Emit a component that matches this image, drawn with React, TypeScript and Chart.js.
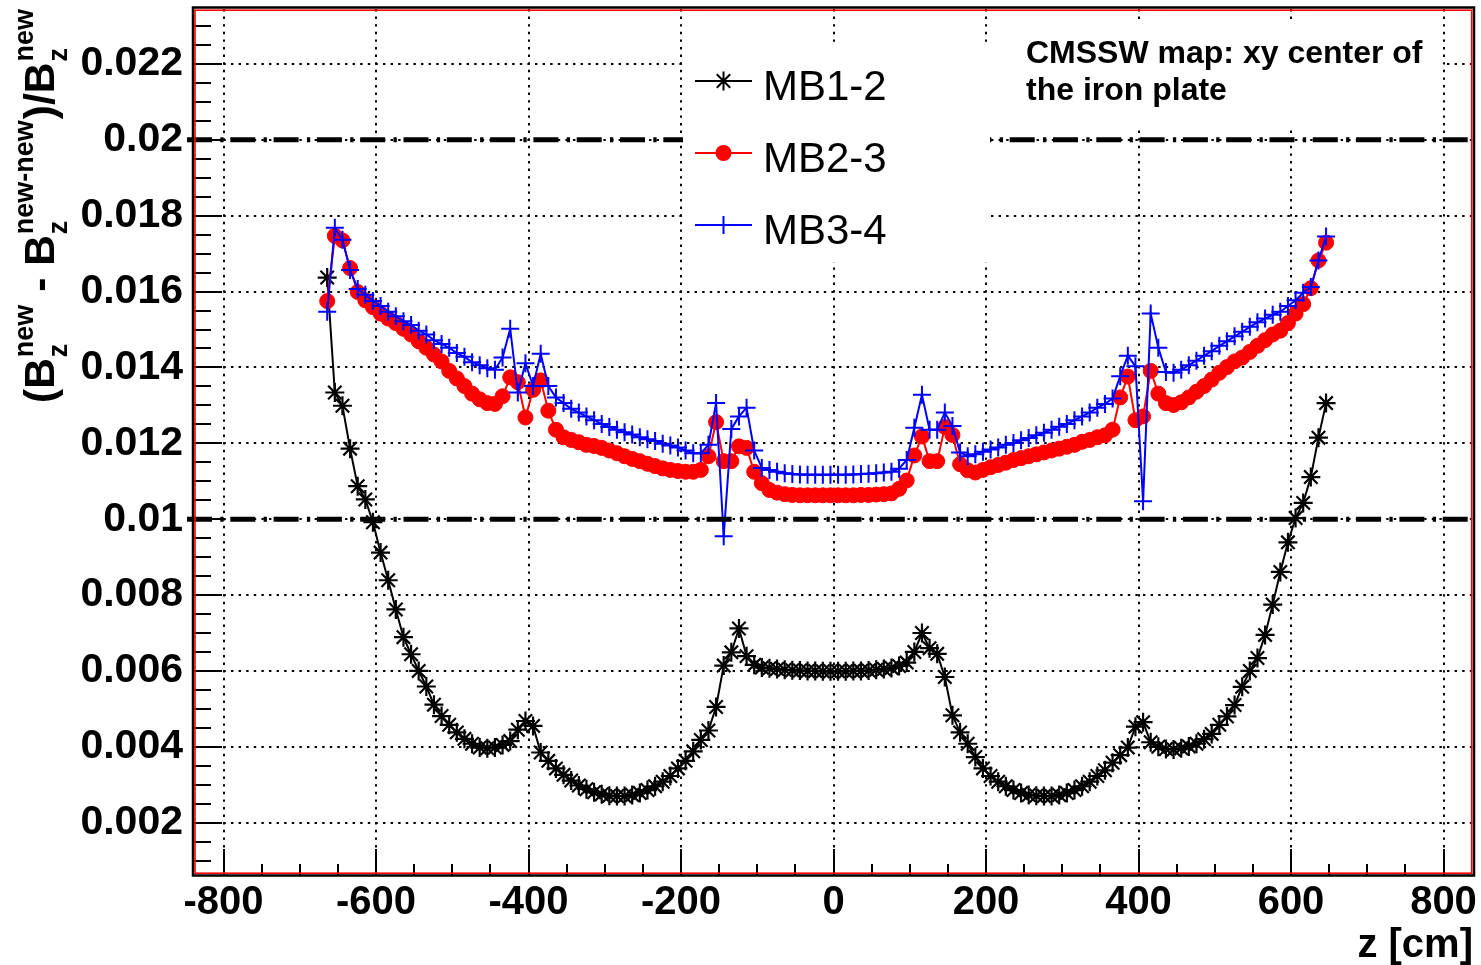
import React, { useEffect, useRef } from 'react';
import { Chart, registerables } from 'chart.js';

Chart.register(...registerables);

const FONT = '"Liberation Sans", Arial, Helvetica, sans-serif';

// z positions of the samples [cm]
const zPositions = [
  -664, -654, -644, -634, -624, -614, -604, -594, -584, -574,
  -564, -554, -544, -534, -524, -514, -504, -494, -484, -474,
  -464, -454, -444, -434, -424, -414, -404, -394, -384, -374,
  -364, -354, -344, -334, -324, -314, -304, -294, -284, -274,
  -264, -254, -244, -234, -224, -214, -204, -194, -184, -174,
  -164, -154, -144, -134, -124, -114, -104, -94, -84, -74,
  -64, -54, -44, -34, -24, -14, -4, 6, 16, 26,
  36, 46, 56, 66, 76, 86, 96, 106, 116, 126,
  136, 146, 156, 166, 176, 186, 196, 206, 216, 226,
  236, 246, 256, 266, 276, 286, 296, 306, 316, 326,
  336, 346, 356, 366, 376, 386, 396, 406, 416, 426,
  436, 446, 456, 466, 476, 486, 496, 506, 516, 526,
  536, 546, 556, 566, 576, 586, 596, 606, 616, 626,
  636, 646,
];

const mb12Values = [
  0.01637, 0.01334, 0.01299, 0.01186, 0.01087, 0.01052, 0.00992, 0.00912, 0.00839, 0.00762,
  0.00689, 0.00644, 0.00600, 0.00559, 0.00511, 0.00481, 0.00458, 0.00438, 0.00421, 0.00408,
  0.00398, 0.00396, 0.00398, 0.00405, 0.00415, 0.00445, 0.00468, 0.00455, 0.00385, 0.00363,
  0.00343, 0.00326, 0.00311, 0.00298, 0.00288, 0.00280, 0.00275, 0.00271, 0.00270, 0.00270,
  0.00273, 0.00278, 0.00286, 0.00296, 0.00308, 0.00323, 0.00343, 0.00363, 0.00388, 0.00418,
  0.00443, 0.00505, 0.00614, 0.00649, 0.00712, 0.00639, 0.00616, 0.00609, 0.00607, 0.00605,
  0.00603, 0.00602, 0.00601, 0.00600, 0.00600, 0.00599, 0.00599, 0.00599, 0.00599, 0.00600,
  0.00600, 0.00601, 0.00603, 0.00605, 0.00608, 0.00613, 0.00622, 0.00650, 0.00700, 0.00660,
  0.00645, 0.00584, 0.00483, 0.00438, 0.00408, 0.00373, 0.00343, 0.00323, 0.00308, 0.00296,
  0.00286, 0.00278, 0.00273, 0.00271, 0.00270, 0.00270, 0.00273, 0.00278, 0.00286, 0.00296,
  0.00308, 0.00323, 0.00338, 0.00358, 0.00378, 0.00398, 0.00453, 0.00465, 0.00412, 0.00400,
  0.00394, 0.00393, 0.00396, 0.00401, 0.00408, 0.00420, 0.00434, 0.00458, 0.00480, 0.00510,
  0.00558, 0.00600, 0.00634, 0.00695, 0.00775, 0.00861, 0.00939, 0.01003, 0.01043, 0.01111,
  0.01215, 0.01306,
];

const mb23Values = [
  0.01575, 0.01747, 0.01735, 0.01662, 0.01599, 0.01577, 0.01559, 0.01542, 0.01529, 0.01517,
  0.01502, 0.01487, 0.01469, 0.01452, 0.01434, 0.01416, 0.01391, 0.01371, 0.01351, 0.01331,
  0.01316, 0.01306, 0.01304, 0.01324, 0.01374, 0.01361, 0.01268, 0.01341, 0.01366, 0.01286,
  0.01236, 0.01216, 0.01209, 0.01203, 0.01196, 0.01193, 0.01188, 0.01181, 0.01174, 0.01166,
  0.01159, 0.01153, 0.01146, 0.01140, 0.01134, 0.01130, 0.01127, 0.01125, 0.01125, 0.01130,
  0.01166, 0.01256, 0.01153, 0.01153, 0.01192, 0.01188, 0.01125, 0.01095, 0.01077, 0.01070,
  0.01066, 0.01064, 0.01063, 0.01063, 0.01063, 0.01063, 0.01063, 0.01063, 0.01063, 0.01063,
  0.01064, 0.01064, 0.01065, 0.01066, 0.01068, 0.01080, 0.01102, 0.01168, 0.01218, 0.01153,
  0.01153, 0.01243, 0.01222, 0.01145, 0.01129, 0.01123, 0.01130, 0.01137, 0.01143, 0.01149,
  0.01156, 0.01161, 0.01166, 0.01171, 0.01176, 0.01181, 0.01186, 0.01191, 0.01196, 0.01204,
  0.01209, 0.01216, 0.01221, 0.01236, 0.01321, 0.01376, 0.01261, 0.01271, 0.01391, 0.01331,
  0.01306, 0.01301, 0.01308, 0.01321, 0.01336, 0.01351, 0.01368, 0.01386, 0.01401, 0.01416,
  0.01426, 0.01441, 0.01457, 0.01472, 0.01487, 0.01497, 0.01517, 0.01542, 0.01567, 0.01609,
  0.01682, 0.01729,
];

const mb34Values = [
  0.01547, 0.01768, 0.01737, 0.01657, 0.01607, 0.01592, 0.01575, 0.01562, 0.01547, 0.01535,
  0.01522, 0.01512, 0.01497, 0.01487, 0.01472, 0.01462, 0.01452, 0.01438, 0.01428, 0.01414,
  0.01406, 0.01398, 0.01394, 0.01426, 0.01502, 0.01334, 0.01411, 0.01351, 0.01436, 0.01351,
  0.01321, 0.01306, 0.01291, 0.01281, 0.01271, 0.01261, 0.01251, 0.01243, 0.01236, 0.01229,
  0.01223, 0.01216, 0.01211, 0.01206, 0.01199, 0.01194, 0.01189, 0.01181, 0.01174, 0.01174,
  0.01196, 0.01306, 0.00955, 0.01238, 0.01271, 0.01294, 0.01181, 0.01135, 0.01130, 0.01125,
  0.01121, 0.01119, 0.01118, 0.01117, 0.01117, 0.01117, 0.01117, 0.01117, 0.01117, 0.01118,
  0.01119, 0.01120, 0.01121, 0.01123, 0.01125, 0.01133, 0.01156, 0.01241, 0.01328, 0.01236,
  0.01236, 0.01281, 0.01246, 0.01176, 0.01166, 0.01171, 0.01178, 0.01184, 0.01189, 0.01196,
  0.01201, 0.01208, 0.01214, 0.01221, 0.01228, 0.01236, 0.01244, 0.01251, 0.01261, 0.01271,
  0.01281, 0.01294, 0.01304, 0.01318, 0.01377, 0.01431, 0.01403, 0.01047, 0.01542, 0.01452,
  0.01388, 0.01386, 0.01394, 0.01406, 0.01418, 0.01431, 0.01443, 0.01457, 0.01469, 0.01482,
  0.01494, 0.01507, 0.01519, 0.01529, 0.01539, 0.01547, 0.01562, 0.01577, 0.01597, 0.01612,
  0.01682, 0.01745,
];

const xTickValues = [-800, -600, -400, -200, 0, 200, 400, 600, 800];
const yTickValues = [0.002, 0.004, 0.006, 0.008, 0.01, 0.012, 0.014, 0.016, 0.018, 0.02, 0.022];
const referenceLevels = [0.01, 0.02];
const seriesNames = ['MB1-2', 'MB2-3', 'MB3-4'];
const noteLines = ['CMSSW map: xy center of', 'the iron plate'];
const xAxisTitle = 'z [cm]';

const X_MIN = -840;
const X_MAX = 840;
const Y_MIN = 0.00062;
const Y_MAX = 0.02345;

const seriesStyles = [
  { color: '#000000', marker: 'star', radius: 9.5, width: 2.2 },
  { color: '#ff0000', marker: 'circle', radius: 7.5, width: 1 },
  { color: '#0000ff', marker: 'cross', radius: 9, width: 2 },
];

function drawMarker(ctx: CanvasRenderingContext2D, style: string, cx: number, cy: number, r: number, color: string, w: number) {
  ctx.save();
  ctx.strokeStyle = color;
  ctx.fillStyle = color;
  ctx.lineWidth = w;
  ctx.setLineDash([]);
  ctx.beginPath();
  if (style === 'circle') {
    ctx.arc(cx, cy, r + 0.5, 0, Math.PI * 2);
    ctx.fill();
  } else {
    ctx.moveTo(cx - r, cy);
    ctx.lineTo(cx + r, cy);
    ctx.moveTo(cx, cy - r);
    ctx.lineTo(cx, cy + r);
    if (style === 'star') {
      const d = r * Math.SQRT1_2;
      ctx.moveTo(cx - d, cy - d);
      ctx.lineTo(cx + d, cy + d);
      ctx.moveTo(cx - d, cy + d);
      ctx.lineTo(cx + d, cy - d);
    }
    ctx.stroke();
  }
  ctx.restore();
}

function drawYTitle(ctx: CanvasRenderingContext2D, baseX: number, topY: number) {
  const F = 42.5;
  const S = 27;
  const mainFont = `bold ${F}px ${FONT}`;
  const smallFont = `bold ${S}px ${FONT}`;
  const parts = [
    { t: '(B' },
    { sup: 'new', sub: 'z' },
    { t: ' - B' },
    { sup: 'new-new', sub: 'z' },
    { t: ')/B' },
    { sup: 'new', sub: 'z' },
  ] as any[];
  const widths = parts.map((p) => {
    if (p.t) {
      ctx.font = mainFont;
      return ctx.measureText(p.t).width;
    }
    ctx.font = smallFont;
    return Math.max(ctx.measureText(p.sup).width, ctx.measureText(p.sub).width) + 2;
  });
  const total = widths.reduce((a, b) => a + b, 0);
  ctx.save();
  ctx.translate(baseX, topY + total);
  ctx.rotate(-Math.PI / 2);
  ctx.fillStyle = '#000';
  ctx.textAlign = 'left';
  ctx.textBaseline = 'alphabetic';
  let u = 0;
  parts.forEach((p, i) => {
    if (p.t) {
      ctx.font = mainFont;
      ctx.fillText(p.t, u, 0);
    } else {
      ctx.font = smallFont;
      ctx.fillText(p.sup, u + 1, -21);
      ctx.fillText(p.sub, u + 1, 13);
    }
    u += widths[i];
  });
  ctx.restore();
}

const decorPlugin = {
  id: 'rootDecor',
  afterDatasetsDraw(chart: any) {
    const { ctx, chartArea: area, scales } = chart;
    const xs = scales.x;
    const ys = scales.y;
    ctx.save();

    // horizontal reference lines (long dash - dot)
    ctx.strokeStyle = '#000';
    ctx.lineWidth = 5;
    ctx.setLineDash([25, 8.3, 3.3, 6.7]);
    for (const lv of referenceLevels) {
      const py = ys.getPixelForValue(lv);
      ctx.beginPath();
      ctx.moveTo(area.left - 6, py);
      ctx.lineTo(area.right, py);
      ctx.stroke();
    }
    ctx.setLineDash([]);

    // legend
    ctx.fillStyle = '#fff';
    ctx.fillRect(683, 45, 307, 217);
    seriesNames.forEach((name, i) => {
      const st = seriesStyles[i];
      const cy = 81 + i * 72;
      ctx.strokeStyle = st.color;
      ctx.lineWidth = 2;
      ctx.beginPath();
      ctx.moveTo(695, cy);
      ctx.lineTo(752, cy);
      ctx.stroke();
      drawMarker(ctx, st.marker, 723.5, cy, st.radius, st.color, st.marker === 'circle' ? 1 : 2);
      ctx.fillStyle = '#000';
      ctx.font = `42px ${FONT}`;
      ctx.textAlign = 'left';
      ctx.textBaseline = 'alphabetic';
      ctx.fillText(name, 763, cy + 19);
    });

    // note text
    ctx.fillStyle = '#fff';
    ctx.fillRect(990, 20, 452, 107);
    ctx.fillStyle = '#000';
    ctx.font = `bold 32px ${FONT}`;
    ctx.textAlign = 'left';
    ctx.textBaseline = 'alphabetic';
    noteLines.forEach((line, i) => ctx.fillText(line, 1026, 63 + i * 37));

    // tick marks (inside the frame)
    ctx.strokeStyle = '#000';
    ctx.lineWidth = 2;
    ctx.beginPath();
    for (let i = -16; i <= 16; i++) {
      const v = i * 50;
      if (v < X_MIN || v > X_MAX) continue;
      const px = Math.round(xs.getPixelForValue(v));
      const len = i % 4 === 0 ? 26 : 11;
      ctx.moveTo(px, area.bottom);
      ctx.lineTo(px, area.bottom - len);
    }
    for (let i = 2; i <= 46; i++) {
      const v = i * 0.0005;
      if (v < Y_MIN || v > Y_MAX) continue;
      const py = Math.round(ys.getPixelForValue(v));
      const len = i % 4 === 0 ? 29 : 18;
      ctx.moveTo(area.left, py);
      ctx.lineTo(area.left + len, py);
    }
    ctx.stroke();

    // frame: black outer, red inner
    ctx.strokeStyle = '#000';
    ctx.lineWidth = 2.5;
    ctx.strokeRect(area.left, area.top - 1.5, area.right - area.left, area.bottom - area.top + 2);
    ctx.strokeStyle = '#ff0000';
    ctx.lineWidth = 1.6;
    ctx.strokeRect(area.left + 2, area.top + 1.2, area.right - area.left - 4.3, area.bottom - area.top - 3);

    // axis titles
    ctx.fillStyle = '#000';
    ctx.font = `bold 40px ${FONT}`;
    ctx.textAlign = 'right';
    ctx.textBaseline = 'alphabetic';
    ctx.fillText(xAxisTitle, 1473, 957);
    drawYTitle(ctx, 54, 8);

    ctx.restore();
  },
};

export default function App() {
  const canvasRef = useRef<HTMLCanvasElement | null>(null);

  useEffect(() => {
    document.body.style.margin = '0';
    const canvas = canvasRef.current;
    if (!canvas) return;
    const seriesData = [mb12Values, mb23Values, mb34Values];
    const datasets = seriesData.map((vals, i) => {
      const st = seriesStyles[i];
      return {
        label: seriesNames[i],
        data: zPositions.map((z, k) => ({ x: z, y: vals[k] })),
        showLine: true,
        borderColor: st.color,
        borderWidth: 2,
        backgroundColor: st.color,
        pointStyle: st.marker,
        pointRadius: st.radius,
        pointHoverRadius: st.radius,
        pointBorderColor: st.color,
        pointBackgroundColor: st.color,
        pointBorderWidth: st.width,
        tension: 0,
        order: 2 - i,
      };
    });

    const chart = new Chart(canvas, {
      type: 'scatter',
      data: { datasets } as any,
      options: {
        responsive: false,
        animation: false,
        devicePixelRatio: 1,
        events: [],
        layout: { autoPadding: false, padding: { top: 9, right: 7, left: 0, bottom: 0 } },
        plugins: { legend: { display: false }, tooltip: { enabled: false } },
        scales: {
          x: {
            type: 'linear',
            min: X_MIN,
            max: X_MAX,
            afterBuildTicks: (s: any) => {
              s.ticks = xTickValues.map((v) => ({ value: v }));
            },
            afterFit: (s: any) => {
              s.height = 90;
              s.paddingLeft = 0;
              s.paddingRight = 0;
            },
            ticks: {
              autoSkip: false,
              maxRotation: 0,
              minRotation: 0,
              padding: 4,
              color: '#000',
              font: { family: FONT, size: 40, weight: 'bold' },
              callback: (v: any) => String(v),
            },
            grid: { color: '#000', lineWidth: 2, drawTicks: false },
            border: { display: false, dash: [2.4, 5.2] },
          },
          y: {
            type: 'linear',
            min: Y_MIN,
            max: Y_MAX,
            afterBuildTicks: (s: any) => {
              s.ticks = yTickValues.map((v) => ({ value: v }));
            },
            afterFit: (s: any) => {
              s.width = 193;
              s.paddingTop = 0;
              s.paddingBottom = 0;
            },
            ticks: {
              padding: 10,
              color: '#000',
              font: { family: FONT, size: 41, weight: 'bold' },
              callback: (v: any) => parseFloat(Number(v).toFixed(4)).toString(),
            },
            grid: { color: '#000', lineWidth: 2, drawTicks: false },
            border: { display: false, dash: [2.4, 5.2] },
          },
        },
      } as any,
      plugins: [decorPlugin],
    });
    return () => chart.destroy();
  }, []);

  return (
    <div style={{ width: 1481, height: 965, position: 'relative', background: '#fff' }}>
      <canvas ref={canvasRef} width={1481} height={965} style={{ display: 'block', width: 1481, height: 965 }} />
    </div>
  );
}
